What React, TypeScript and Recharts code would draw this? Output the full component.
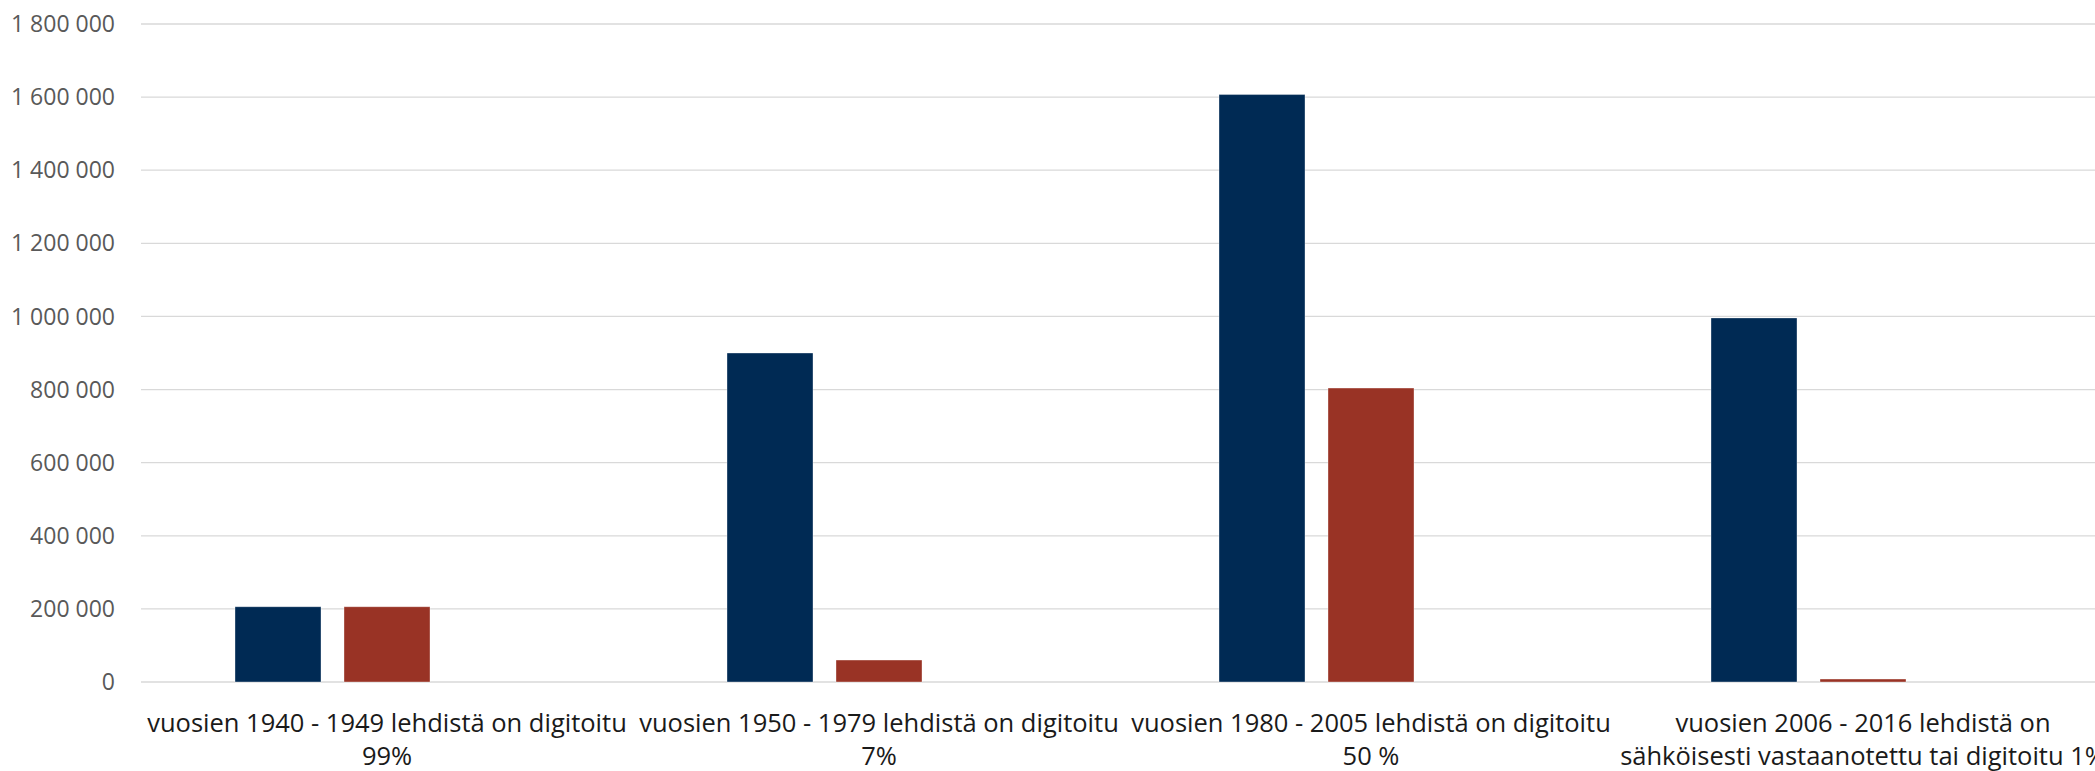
import { BarChart, Bar, XAxis, YAxis, CartesianGrid } from 'recharts';

const CATEGORIES = [
  'vuosien 1940 - 1949 lehdistä on digitoitu\n99%',
  'vuosien 1950 - 1979 lehdistä on digitoitu\n7%',
  'vuosien 1980 - 2005 lehdistä on digitoitu\n50 %',
  'vuosien 2006 - 2016 lehdistä on\nsähköisesti vastaanotettu tai digitoitu 1%',
];
const SIVUT_YHTEENSA = [206000, 900000, 1607000, 996000];
const DIGITOITU = [206000, 60000, 804000, 8000];
const OSUUS = [0.99, 0.07, 0.5, 0.01];
const Y_TICKS = [0, 200000, 400000, 600000, 800000, 1000000, 1200000, 1400000, 1600000, 1800000];

const data = CATEGORIES.map((name, i) => ({
  name,
  yhteensa: SIVUT_YHTEENSA[i],
  digitoitu: DIGITOITU[i],
  osuus: OSUUS[i],
}));

const FONT = '"Open Sans", "Noto Sans", sans-serif';

const fmt = (v: number) => String(v).replace(/\B(?=(\d{3})+(?!\d))/g, ' ');

function CategoryTick({ x, y, payload }: any) {
  const lines = String(payload.value).split('\n');
  return (
    <text x={x} y={y} textAnchor="middle" fill="#1a1a1a" fontSize={25.5} fontFamily={FONT}>
      {lines.map((l, i) => (
        <tspan key={i} x={x} y={y + 50 + i * 33}>{l}</tspan>
      ))}
    </text>
  );
}

export default function App() {
  return (
    <div style={{ position: 'absolute', left: 0, top: 0, width: 2095, height: 771, overflow: 'hidden', background: '#fff' }}>
      <BarChart
        width={2120}
        height={771}
        data={data}
        margin={{ top: 24, right: 11, bottom: 0, left: 0 }}
        barCategoryGap={94}
        barGap={23}
      >
        <CartesianGrid vertical={false} stroke="#d9d9d9" strokeWidth={1.3} />
        <XAxis
          dataKey="name"
          height={89}
          axisLine={false}
          tickLine={false}
          tickSize={0}
          tickMargin={0}
          interval={0}
          tick={<CategoryTick />}
        />
        <YAxis
          width={141}
          domain={[0, 1800000]}
          ticks={Y_TICKS}
          interval={0}
          axisLine={false}
          tickLine={false}
          tickSize={0}
          tickMargin={26}
          tickFormatter={fmt}
          tick={{ fill: '#595959', fontSize: 23, fontFamily: FONT }}
        />
        <Bar dataKey="yhteensa" fill="#002a54" stroke="#ffffff" strokeOpacity={0.35} strokeWidth={1} isAnimationActive={false} />
        <Bar dataKey="digitoitu" fill="#993325" stroke="#ffffff" strokeOpacity={0.35} strokeWidth={1} isAnimationActive={false} />
        <Bar dataKey="osuus" fill="#a5a5a5" isAnimationActive={false} />
      </BarChart>
    </div>
  );
}
